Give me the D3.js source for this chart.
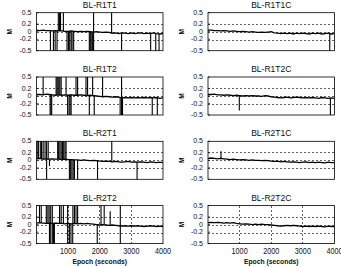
<!DOCTYPE html>
<html>
<head>
<meta charset="utf-8">
<script src="https://cdn.jsdelivr.net/npm/d3@7"></script>
<style>
  body { margin: 0; background: #fff; }
  svg { display: block; font-family: "Liberation Sans", Arial, sans-serif; }
</style>
</head>
<body>
<svg width="341" height="267"></svg>
<script>
// baseline M values, one per 100 s from 0 to 4000
const epochs = d3.range(0, 4001, 100);
const baseR1T1 = [0.04, 0.03, 0.04, 0.03, 0.03, 0.02, 0.03, 0.02, 0.02, 0.01, 0.01, 0.02, 0.01, 0.0, 0.01, 0.0, 0.01, 0.0, -0.01, 0.0, -0.01, -0.02, -0.01, -0.02, -0.04, -0.03, -0.05, -0.03, -0.04, -0.05, -0.03, -0.05, -0.04, -0.03, -0.05, -0.04, -0.05, -0.03, -0.05, -0.06, -0.05];
const baseR1T2 = [0.04, 0.04, 0.03, 0.05, 0.04, 0.03, 0.02, 0.03, 0.02, 0.03, 0.02, 0.03, 0.02, 0.02, 0.03, 0.02, 0.01, 0.02, 0.01, 0.0, -0.01, -0.02, -0.01, -0.02, -0.03, -0.02, -0.03, -0.05, -0.04, -0.05, -0.04, -0.05, -0.04, -0.05, -0.04, -0.05, -0.04, -0.05, -0.04, -0.06, -0.05];
const baseR2T1 = [0.04, 0.05, 0.03, 0.04, 0.03, 0.04, 0.03, 0.03, 0.02, 0.03, 0.02, 0.02, 0.01, 0.01, 0.0, 0.01, 0.0, -0.01, 0.0, -0.01, -0.02, -0.03, -0.02, -0.03, -0.04, -0.03, -0.04, -0.05, -0.04, -0.03, -0.05, -0.04, -0.05, -0.04, -0.05, -0.06, -0.04, -0.05, -0.06, -0.05, -0.06];
const baseR2T2 = [0.04, 0.05, 0.04, 0.03, 0.04, 0.03, 0.04, 0.03, 0.03, 0.02, 0.03, 0.02, 0.03, 0.02, 0.03, 0.02, 0.03, 0.02, 0.01, 0.0, -0.01, 0.0, -0.01, -0.02, -0.01, -0.02, -0.03, -0.04, -0.03, -0.04, -0.03, -0.04, -0.03, -0.04, -0.05, -0.04, -0.03, -0.04, -0.05, -0.04, -0.05];
const baseR1T1C = [0.04, 0.04, 0.03, 0.03, 0.02, 0.03, 0.02, 0.01, 0.02, 0.01, 0.0, 0.01, 0.0, -0.01, 0.0, -0.01, -0.02, -0.01, -0.02, -0.01, 0.0, -0.03, -0.04, -0.05, -0.04, -0.05, -0.04, -0.06, -0.04, -0.05, -0.04, -0.05, -0.06, -0.04, -0.05, -0.04, -0.06, -0.05, -0.04, -0.06, -0.05];
const baseR1T2C = [0.04, 0.04, 0.05, 0.03, 0.03, 0.02, 0.03, 0.02, 0.01, 0.02, 0.01, 0.0, 0.01, 0.0, 0.01, 0.0, 0.0, -0.01, 0.01, 0.0, -0.02, -0.03, -0.04, -0.05, -0.04, -0.03, -0.05, -0.04, -0.03, -0.04, -0.05, -0.04, -0.05, -0.04, -0.05, -0.06, -0.04, -0.05, -0.06, -0.05, -0.06];
const baseR2T1C = [0.05, 0.06, 0.05, 0.04, 0.05, 0.04, 0.03, 0.02, 0.03, 0.02, 0.01, 0.02, 0.01, 0.0, 0.01, 0.0, 0.0, -0.01, 0.0, -0.01, -0.02, -0.03, -0.02, -0.04, -0.03, -0.04, -0.05, -0.04, -0.05, -0.06, -0.05, -0.04, -0.06, -0.05, -0.06, -0.05, -0.06, -0.07, -0.05, -0.06, -0.06];
const baseR2T2C = [0.05, 0.06, 0.05, 0.06, 0.05, 0.04, 0.05, 0.04, 0.05, 0.03, 0.02, 0.01, 0.02, 0.01, 0.0, 0.01, 0.0, 0.01, 0.0, 0.0, -0.01, -0.02, -0.03, -0.04, -0.03, -0.02, -0.03, -0.02, -0.03, -0.04, -0.05, -0.04, -0.05, -0.04, -0.05, -0.04, -0.05, -0.06, -0.04, -0.05, -0.05];

// outlier samples [epoch, M]; |M| > 0.5 runs off the axes
const spikesR1T1 = [[440, -0.6], [535, -0.6], [590, -0.6], [650, -0.6], [690, 0.6], [730, 0.6], [760, 0.6], [850, 0.6], [965, -0.6], [1010, -0.6], [1050, -0.6], [1095, -0.6], [1125, -0.6], [1175, -0.6], [1670, -0.6], [1700, -0.6], [1730, -0.6], [1775, -0.6], [1805, 0.6], [1805, -0.6], [2375, 0.6], [2690, -0.6], [3610, -0.6], [3770, -0.6], [3875, -0.6]];
const spikesR1T2 = [[210, 0.6], [430, -0.6], [460, -0.6], [480, -0.6], [620, 0.6], [650, 0.6], [680, 0.6], [710, 0.6], [740, 0.6], [780, 0.6], [935, 0.6], [985, -0.6], [1030, -0.6], [1060, -0.6], [1095, -0.6], [1250, 0.6], [1300, 0.6], [1565, 0.6], [1615, 0.6], [1670, -0.6], [1775, 0.6], [1825, -0.6], [2090, 0.6], [2645, -0.6], [2690, 0.6], [2690, -0.6], [2720, -0.6], [3660, -0.6], [3820, -0.6]];
const spikesR2T1 = [[20, 0.6], [60, 0.6], [120, 0.6], [160, 0.6], [210, 0.6], [270, 0.6], [320, 0.6], [320, -0.6], [370, 0.6], [410, -0.15], [670, 0.6], [700, 0.6], [740, 0.6], [780, 0.6], [820, 0.6], [860, 0.6], [900, 0.6], [935, 0.6], [1040, -0.6], [1080, -0.6], [1120, -0.6], [1160, -0.6], [1200, -0.6], [1300, -0.6], [1930, -0.6], [2380, 0.6], [3180, -0.6]];
const spikesR2T2 = [[95, 0.6], [150, 0.6], [310, 0.6], [360, 0.6], [400, 0.6], [410, -0.6], [450, 0.6], [450, -0.6], [500, 0.6], [500, -0.6], [540, -0.6], [565, -0.6], [730, 0.6], [780, 0.6], [850, 0.6], [985, 0.6], [985, -0.6], [1040, -0.6], [1090, -0.6], [1145, -0.6], [1150, 0.6], [1200, 0.6], [1250, 0.6], [1300, 0.6], [1920, -0.6], [2040, 0.6], [2140, 0.6], [2330, 0.35], [2650, 0.6], [2650, -0.6]];
const spikesR1T1C = [[3850, -0.6]];
const spikesR1T2C = [[990, -0.38], [3870, -0.6]];
const spikesR2T1C = [[410, 0.24]];
const spikesR2T2C = [];

const titles = ["BL-R1T1", "BL-R1T1C", "BL-R1T2", "BL-R1T2C", "BL-R2T1", "BL-R2T1C", "BL-R2T2", "BL-R2T2C"];
const yTicks = [-0.5, -0.2, 0, 0.2, 0.5];
const yTickLabels = ["-0.5", "-0.2", "0", "0.2", "0.5"];
const xTicks = [1000, 2000, 3000, 4000];

const panels = [
  { base: baseR1T1, spikes: spikesR1T1 }, { base: baseR1T1C, spikes: spikesR1T1C },
  { base: baseR1T2, spikes: spikesR1T2 }, { base: baseR1T2C, spikes: spikesR1T2C },
  { base: baseR2T1, spikes: spikesR2T1 }, { base: baseR2T1C, spikes: spikesR2T1C },
  { base: baseR2T2, spikes: spikesR2T2 }, { base: baseR2T2C, spikes: spikesR2T2C }
];

const svg = d3.select("svg");
const colX = [36.5, 208];
const pw = 126.5, ph = 38;

panels.forEach((p, i) => {
  const col = i % 2, row = Math.floor(i / 2);
  const left = colX[col], top = 12.7 + row * 64.3;
  const last = row === 3;

  const x = d3.scaleLinear().domain([0, 4000]).range([0, pw]);
  const y = d3.scaleLinear().domain([-0.5, 0.5]).range([ph, 0]);

  const g = svg.append("g").attr("transform", `translate(${left},${top})`);

  g.append("clipPath").attr("id", "clip" + i)
    .append("rect").attr("width", pw).attr("height", ph);

  // grid (dotted)
  const grid = g.append("g").attr("stroke", "#222").attr("stroke-width", 0.7)
    .attr("stroke-dasharray", "2,2").attr("shape-rendering", "crispEdges");
  grid.selectAll(".hg").data([-0.2, 0, 0.2]).enter().append("line")
    .attr("x1", 0).attr("x2", pw)
    .attr("y1", d => Math.round(y(d)) + 0.5).attr("y2", d => Math.round(y(d)) + 0.5);
  if (last) {
    grid.selectAll(".vg").data([1000, 2000, 3000]).enter().append("line")
      .attr("y1", 0).attr("y2", ph)
      .attr("x1", d => x(d)).attr("x2", d => x(d));
  }

  const plot = g.append("g").attr("clip-path", `url(#clip${i})`);

  // spikes: vertical line from the baseline sample to the outlier value
  plot.selectAll(".spike").data(p.spikes).enter().append("line")
    .attr("stroke", "#000").attr("stroke-width", 1.1)
    .attr("x1", d => x(d[0])).attr("x2", d => x(d[0]))
    .attr("y1", d => y(p.base[Math.round(d[0] / 100)]))
    .attr("y2", d => y(d[1]));

  const line = d3.line().x(d => x(d[0])).y(d => y(d[1]));
  plot.append("path")
    .datum(epochs.map((e, k) => [e, p.base[k]]))
    .attr("fill", "none").attr("stroke", "#000").attr("stroke-width", 1.3)
    .attr("d", line);

  // box
  g.append("rect").attr("x", 0).attr("y", 0).attr("width", pw).attr("height", ph)
    .attr("fill", "none").attr("stroke", "#000").attr("stroke-width", 0.8);

  // y ticks + labels
  g.selectAll(".yt").data(yTicks).enter().append("line")
    .attr("x1", 0).attr("x2", 2).attr("y1", d => y(d)).attr("y2", d => y(d))
    .attr("stroke", "#000").attr("stroke-width", 0.7);
  g.selectAll(".yl").data(yTicks).enter().append("text")
    .attr("transform", d => `translate(-5,${y(d)}) scale(0.88,1)`)
    .attr("text-anchor", "end").attr("dominant-baseline", "middle")
    .attr("font-size", 8).attr("fill", "#111")
    .text((d, k) => yTickLabels[k]);

  g.append("text")
    .attr("transform", `translate(${-26},${ph / 2}) rotate(-90)`)
    .attr("text-anchor", "middle").attr("dominant-baseline", "middle")
    .attr("font-size", 6.5).attr("font-weight", "bold")
    .text("M");

  g.append("text")
    .attr("x", pw / 2).attr("y", -5)
    .attr("text-anchor", "middle").attr("font-size", 8.5).attr("fill", "#111")
    .text(titles[i]);

  if (last) {
    g.selectAll(".xl").data(xTicks).enter().append("text")
      .attr("transform", d => `translate(${x(d)},${ph + 10.5}) scale(0.85,1)`)
      .attr("text-anchor", "middle").attr("font-size", 8.5).attr("fill", "#111")
      .text(d => d);
    g.append("text")
      .attr("transform", `translate(${pw / 2},${ph + 20.5}) scale(0.85,1)`)
      .attr("text-anchor", "middle").attr("font-size", 8).attr("font-weight", "bold")
      .attr("fill", "#111")
      .text("Epoch (seconds)");
  }
});
</script>
</body>
</html>
